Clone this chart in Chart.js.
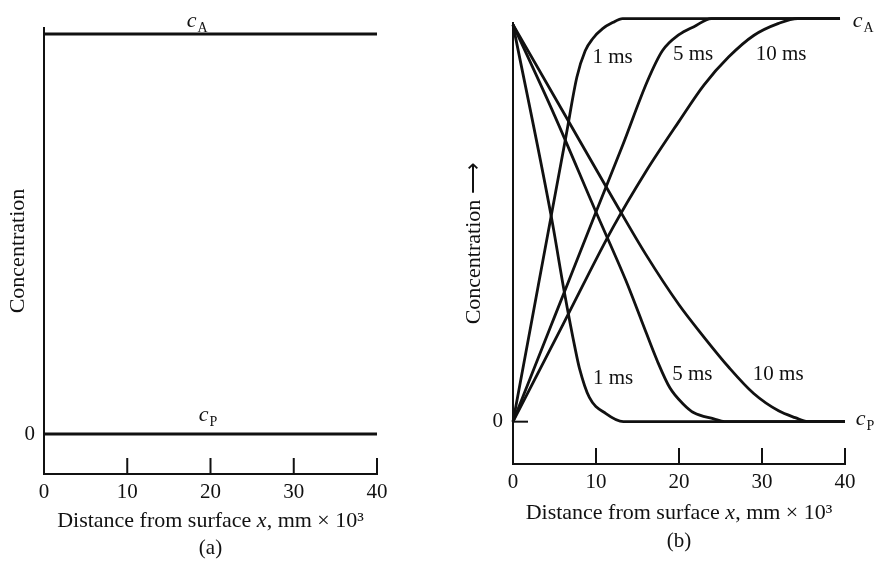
<!DOCTYPE html>
<html>
<head>
<meta charset="utf-8">
<script src="https://cdn.jsdelivr.net/npm/chart.js@4.4.1/dist/chart.umd.min.js"></script>
<style>
  body { margin: 0; background: #fff; }
  #wrap { position: relative; width: 874px; height: 564px; }
  canvas { position: absolute; top: 0; }
</style>
</head>
<body>
<div id="wrap">
  <canvas id="chartA" width="437" height="564" style="left:0"></canvas>
  <canvas id="chartB" width="437" height="564" style="left:437px"></canvas>
</div>
<script>
const xTicks = [0, 10, 20, 30, 40];

// panel (a): before the pulse
const aX = [0, 40];
const aCA = [1, 1];
const aCP = [0, 0];

// panel (b): profiles after 1, 5 and 10 ms
const cA1x = [0, 2.3, 4.6, 6.4, 7.7, 8.7, 9.6, 10.8, 12.0, 13.2, 39.4];
const cA1y = [0, 0.255, 0.51, 0.71, 0.855, 0.92, 0.95, 0.975, 0.99, 1, 1];
const cP1x = [0, 4.6, 6.2, 7.5, 8.0, 9.2, 11.2, 13.3, 40];
const cP1y = [0.985, 0.51, 0.32, 0.18, 0.133, 0.06, 0.02, 0, 0];

const cA5x = [0, 5, 10, 13.2, 16.2, 18, 20, 21.8, 23.9, 39.4];
const cA5y = [0, 0.26, 0.52, 0.685, 0.845, 0.92, 0.96, 0.98, 1, 1];
const cP5x = [0, 5, 10, 13.6, 15.5, 17.4, 18.9, 20.5, 21.8, 24.2, 25.5, 40];
const cP5y = [0.985, 0.76, 0.52, 0.35, 0.25, 0.15, 0.084, 0.044, 0.022, 0.007, 0, 0];

const cA10x = [0, 6, 12, 16, 20, 23, 26, 29, 32, 34.3, 39.4];
const cA10y = [0, 0.24, 0.48, 0.62, 0.745, 0.835, 0.905, 0.958, 0.988, 1, 1];
const cP10x = [0, 6, 12, 16, 20, 23, 26, 29, 32, 34, 35.5, 40];
const cP10y = [0.985, 0.77, 0.555, 0.415, 0.29, 0.21, 0.135, 0.07, 0.027, 0.01, 0, 0];

const ink = '#111';
const serif = "'Liberation Serif', 'Times New Roman', serif";
const tickSize = 21;
const titleSize = 22;

function pts(xs, ys) {
  return xs.map((x, i) => ({ x: x, y: ys[i] }));
}

function line(xs, ys) {
  return {
    data: pts(xs, ys),
    borderColor: ink,
    borderWidth: 2.8,
    pointRadius: 0,
    fill: false,
    cubicInterpolationMode: 'monotone',
    clip: false
  };
}

function drawSub(ctx, main, sub, cx, baseY) {
  ctx.textAlign = 'left';
  ctx.textBaseline = 'alphabetic';
  ctx.font = 'italic 22px ' + serif;
  const w1 = ctx.measureText(main).width;
  ctx.font = '14px ' + serif;
  const w2 = ctx.measureText(sub).width;
  const left = cx - (w1 + w2 + 1) / 2;
  ctx.font = 'italic 22px ' + serif;
  ctx.fillText(main, left, baseY);
  ctx.font = '14px ' + serif;
  ctx.fillText(sub, left + w1 + 1, baseY + 5);
}

function drawAxisTitle(ctx, cx, cy) {
  const parts = [['Distance from surface ', false], ['x', true], [', mm \u00d7 10\u00b3', false]];
  let total = 0;
  parts.forEach(p => {
    ctx.font = (p[1] ? 'italic ' : '') + titleSize + 'px ' + serif;
    total += ctx.measureText(p[0]).width;
  });
  let x = cx - total / 2;
  ctx.textAlign = 'left';
  ctx.textBaseline = 'middle';
  parts.forEach(p => {
    ctx.font = (p[1] ? 'italic ' : '') + titleSize + 'px ' + serif;
    ctx.fillText(p[0], x, cy);
    x += ctx.measureText(p[0]).width;
  });
}

const decor = {
  id: 'decor',
  afterDraw(chart, args, o) {
    const ctx = chart.ctx;
    const area = chart.chartArea;
    const sx = chart.scales.x;
    const sy = chart.scales.y;
    ctx.save();
    ctx.strokeStyle = ink;
    ctx.fillStyle = ink;
    ctx.lineWidth = 2;

    // tick marks stand up inside the frame
    xTicks.slice(1).forEach(v => {
      const px = sx.getPixelForValue(v);
      ctx.beginPath();
      ctx.moveTo(px, area.bottom + 1);
      ctx.lineTo(px, area.bottom - 16);
      ctx.stroke();
    });

    if (o.zeroTick) {
      const py = sy.getPixelForValue(0);
      ctx.beginPath();
      ctx.moveTo(area.left, py);
      ctx.lineTo(area.left + 15, py);
      ctx.stroke();
    }

    ctx.textAlign = 'center';
    ctx.textBaseline = 'middle';
    ctx.font = tickSize + 'px ' + serif;
    o.texts.forEach(t => {
      ctx.fillText(t.text, sx.getPixelForValue(t.x), sy.getPixelForValue(t.y));
    });

    o.subs.forEach(s => {
      drawSub(ctx, 'c', s.sub, sx.getPixelForValue(s.x), sy.getPixelForValue(s.y));
    });

    const mid = (area.left + area.right) / 2;
    drawAxisTitle(ctx, mid, o.titleY);

    ctx.font = tickSize + 'px ' + serif;
    ctx.textAlign = 'center';
    ctx.textBaseline = 'middle';
    ctx.fillText(o.caption, mid, o.captionY);
    ctx.restore();
  }
};

function makeChart(id, datasets, s) {
  const ctx = document.getElementById(id).getContext('2d');
  return new Chart(ctx, {
    type: 'line',
    data: { datasets: datasets },
    options: {
      responsive: false,
      animation: false,
      events: [],
      layout: { padding: { left: s.padLeft, right: s.padRight, top: s.padTop, bottom: 0 } },
      scales: {
        x: {
          type: 'linear',
          min: 0,
          max: 40,
          afterBuildTicks: scale => { scale.ticks = xTicks.map(v => ({ value: v })); },
          afterFit: scale => { scale.height = s.xHeight; },
          grid: { display: false, drawTicks: false },
          border: { display: true, color: ink, width: 2 },
          ticks: {
            color: ink,
            padding: 6,
            maxRotation: 0,
            autoSkip: false,
            font: { family: serif, size: tickSize }
          }
        },
        y: {
          type: 'linear',
          min: s.yMin,
          max: s.yMax,
          afterBuildTicks: scale => { scale.ticks = [{ value: 0 }]; },
          afterFit: scale => { scale.width = s.yWidth; },
          grid: { display: false, drawTicks: false },
          border: { display: true, color: ink, width: 2 },
          ticks: {
            color: ink,
            padding: s.yTickPad,
            callback: v => String(v),
            font: { family: serif, size: tickSize }
          },
          title: {
            display: true,
            text: s.yTitle,
            color: ink,
            padding: 0,
            font: { family: serif, size: titleSize }
          }
        }
      },
      plugins: {
        legend: { display: false },
        tooltip: { enabled: false },
        decor: s.decor
      }
    },
    plugins: [decor]
  });
}

makeChart('chartA', [line(aX, aCA), line(aX, aCP)], {
  padLeft: 5, padRight: 60, padTop: 28,
  yWidth: 39, xHeight: 90, yTickPad: 9,
  yMin: -0.1, yMax: 1.015,
  yTitle: 'Concentration',
  decor: {
    zeroTick: false,
    texts: [],
    subs: [{ sub: 'A', x: 18.4, y: 1.0175 }, { sub: 'P', x: 19.7, y: 0.0325 }],
    titleY: 521,
    caption: '(a)',
    captionY: 548
  }
});

makeChart('chartB', [
  line(cA1x, cA1y), line(cP1x, cP1y),
  line(cA5x, cA5y), line(cP5x, cP5y),
  line(cA10x, cA10y), line(cP10x, cP10y)
], {
  padLeft: 24, padRight: 29, padTop: 18,
  yWidth: 52, xHeight: 100, yTickPad: 10,
  yMin: -0.105, yMax: 0.99,
  yTitle: 'Concentration \u27f6',
  decor: {
    zeroTick: true,
    texts: [
      { text: '1 ms', x: 12.0, y: 0.904 },
      { text: '5 ms', x: 21.7, y: 0.91 },
      { text: '10 ms', x: 32.3, y: 0.91 },
      { text: '1 ms', x: 12.05, y: 0.106 },
      { text: '5 ms', x: 21.6, y: 0.116 },
      { text: '10 ms', x: 31.95, y: 0.118 }
    ],
    subs: [{ sub: 'A', x: 42.2, y: 0.98 }, { sub: 'P', x: 42.4, y: -0.009 }],
    titleY: 513,
    caption: '(b)',
    captionY: 541
  }
});
</script>
</body>
</html>
